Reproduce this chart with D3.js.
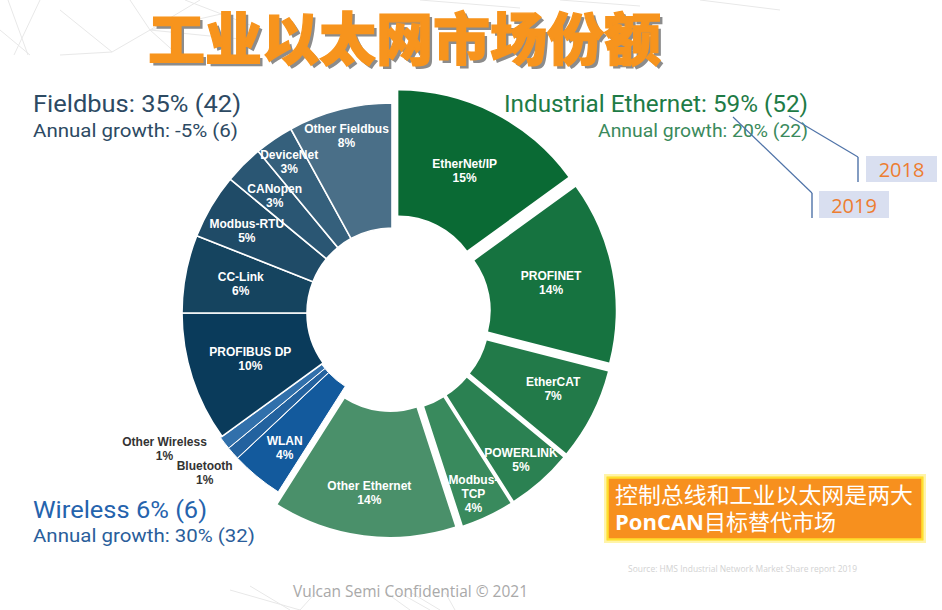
<!DOCTYPE html>
<html>
<head>
<meta charset="utf-8">
<script src="https://cdn.jsdelivr.net/npm/d3@7"></script>
<style>
  body { margin: 0; background: #fff; }
  svg { display: block; }
</style>
</head>
<body>
<div id="chart"></div>
<script>
//// data, clockwise from 12 o'clock
const segments = ['EtherNet/IP', 'PROFINET', 'EtherCAT', 'POWERLINK', 'Modbus-TCP', 'Other Ethernet',
	'WLAN', 'Bluetooth', 'Other Wireless',
	'PROFIBUS DP', 'CC-Link', 'Modbus-RTU', 'CANopen', 'DeviceNet', 'Other Fieldbus'];
const shares = [15, 14, 7, 5, 4, 14, 4, 1, 1, 10, 6, 5, 3, 3, 8];
const groups = ['eth', 'eth', 'eth', 'eth', 'eth', 'eth', 'wl', 'wl', 'wl', 'fb', 'fb', 'fb', 'fb', 'fb', 'fb'];

//// group summaries: 2019 share (2018 share), growth 2019 (2018)
const groupTitles = ['Fieldbus', 'Industrial Ethernet', 'Wireless'];
const groupShare = [35, 59, 6];
const groupShare2018 = [42, 52, 6];
const groupGrowth = [-5, 20, 30];
const groupGrowth2018 = [6, 22, 32];
const years = ['2018', '2019'];

const title = '工业以太网市场份额';
const noteLines = ['控制总线和工业以太网是两大', 'PonCAN目标替代市场'];
const source = 'Source: HMS Industrial Network Market Share report 2019';
const footer = 'Vulcan Semi Confidential © 2021';

//// styles / layout
const colors = {
	'EtherNet/IP': '#0a6a34', 'PROFINET': '#167340', 'EtherCAT': '#227a49', 'POWERLINK': '#2b8152',
	'Modbus-TCP': '#398a5d', 'Other Ethernet': '#4a906a',
	'WLAN': '#135a9d', 'Bluetooth': '#23629f', 'Other Wireless': '#3170ab',
	'PROFIBUS DP': '#0a3b5b', 'CC-Link': '#15445f', 'Modbus-RTU': '#1f4b67', 'CANopen': '#2a5673',
	'DeviceNet': '#35607c', 'Other Fieldbus': '#4a6f88'
};
const explode = { eth: 14, wl: 2, fb: 0 };
// label radius (and angle nudge in degrees) per slice
const labelPos = {
	'EtherNet/IP': [146, 0], 'PROFINET': [148, 0], 'EtherCAT': [164, -2], 'POWERLINK': [181, 0],
	'Modbus-TCP': [184, 1], 'Other Ethernet': [167, 0], 'WLAN': [170, -1],
	'Bluetooth': [244, 1], 'Other Wireless': [263, 7],
	'PROFIBUS DP': [149, 0], 'CC-Link': [154, 0], 'Modbus-RTU': [167, -1], 'CANopen': [166, 0],
	'DeviceNet': [183, 0], 'Other Fieldbus': [183, 0]
};
const wrap = { 'Modbus-TCP': ['Modbus-', 'TCP'] };
const outside = ['Bluetooth', 'Other Wireless'];

const W = 942, H = 610;
const cx = 392, cy = 313, rIn = 85, rOut = 210;

const svg = d3.select('#chart').append('svg')
	.attr('width', W)
	.attr('height', H)
	.style('font-family', 'Roboto, "Liberation Sans", sans-serif');

//// faint network-line backdrop (top band and bottom)
const decoLines = [
	[[8, 0], [28, 55]], [[40, 0], [14, 55]], [[0, 30], [30, 55]], [[60, 10], [112, 52]],
	[[112, 52], [150, 30]], [[112, 52], [60, 55]], [[150, 30], [200, 0]], [[150, 30], [178, 55]],
	[[150, 30], [230, 12]], [[150, 30], [130, 0]], [[150, 30], [250, 40]], [[185, 0], [250, 25]],
	[[420, 0], [520, 8]], [[560, 0], [640, 6]], [[700, 0], [780, 10]],
	[[230, 590], [300, 610]], [[250, 586], [290, 610]], [[300, 610], [318, 590]],
	[[385, 592], [410, 610]], [[398, 592], [430, 610]], [[410, 592], [440, 610]], [[445, 592], [455, 610]]
];
svg.append('g').selectAll('line')
	.data(decoLines)
	.enter()
	.append('line')
	.attr('x1', d => d[0][0]).attr('y1', d => d[0][1])
	.attr('x2', d => d[1][0]).attr('y2', d => d[1][1])
	.attr('stroke', '#e8e8e8').attr('stroke-width', 1);

//// title with drop shadow
const titleG = svg.append('g').style('font-family', '"Noto Sans CJK SC", sans-serif')
	.style('font-weight', 900).style('font-size', '57px');
titleG.append('text').attr('x', 151).attr('y', 63).attr('fill', '#8c8c8c').text(title);
titleG.append('text').attr('x', 148).attr('y', 60).attr('fill', '#f7941d')
	.attr('stroke', '#f7941d').attr('stroke-width', 1.2).text(title);

//// donut
const rows = segments.map((name, i) => ({ name, value: shares[i], group: groups[i] }));
const pie = d3.pie().sort(null).value(d => d.value).startAngle(0).endAngle(2 * Math.PI);
const arc = d3.arc().innerRadius(rIn).outerRadius(rOut);
const arcs = pie(rows);

const offset = d => {
	const mid = (d.startAngle + d.endAngle) / 2;
	const e = explode[d.data.group];
	return [e * Math.sin(mid), -e * Math.cos(mid)];
};

const donut = svg.append('g').attr('transform', `translate(${cx},${cy})`);

donut.append('g').selectAll('path')
	.data(arcs)
	.enter()
	.append('path')
	.attr('transform', d => `translate(${offset(d)})`)
	.attr('d', arc)
	.attr('fill', d => colors[d.data.name])
	.attr('stroke', d => d.data.group === 'eth' ? 'none' : '#fff')
	.attr('stroke-width', d => d.data.group === 'fb' ? 1.6 : 1);

//// labels on their own layer so no slice covers them
const labels = donut.append('g')
	.attr('text-anchor', 'middle')
	.attr('font-family', '"Liberation Sans", Arial, sans-serif')
	.attr('font-weight', 'bold')
	.attr('font-size', 12);

arcs.forEach(d => {
	const [r, nudge] = labelPos[d.data.name];
	const a = (d.startAngle + d.endAngle) / 2 + nudge * Math.PI / 180;
	const [lx, ly] = d3.arc().innerRadius(r).outerRadius(r).centroid({ startAngle: a, endAngle: a });
	const [ox, oy] = offset(d);
	const lines = (wrap[d.data.name] || [d.data.name]).concat([d.data.value + '%']);
	const lh = 14;
	const t = labels.append('text')
		.attr('fill', outside.includes(d.data.name) ? '#333' : '#fff');
	lines.forEach((ln, i) => {
		t.append('tspan')
			.attr('x', lx + ox)
			.attr('y', ly + oy + (i - (lines.length - 1) / 2) * lh + 4.3)
			.text(ln);
	});
});

//// group headings
const fmt = v => v + '%';
const headings = [
	{ t: `${groupTitles[0]}: ${fmt(groupShare[0])} (${groupShare2018[0]})`, x: 33, y: 112, w: 208, size: 24, fill: '#2d4a63' },
	{ t: `Annual growth: ${fmt(groupGrowth[0])} (${groupGrowth2018[0]})`, x: 33, y: 137, w: 205, size: 19, fill: '#2d4a63' },
	{ t: `${groupTitles[1]}: ${fmt(groupShare[1])} (${groupShare2018[1]})`, x: 504, y: 112, w: 304, size: 24, fill: '#1e7b46' },
	{ t: `Annual growth: ${fmt(groupGrowth[1])} (${groupGrowth2018[1]})`, x: 598, y: 137, w: 210, size: 19, fill: '#3b8a5c' },
	{ t: `${groupTitles[2]} ${fmt(groupShare[2])} (${groupShare2018[2]})`, x: 33, y: 518, w: 174, size: 24, fill: '#2563ad' },
	{ t: `Annual growth: ${fmt(groupGrowth[2])} (${groupGrowth2018[2]})`, x: 33, y: 542, w: 222, size: 19, fill: '#2a5e9b' }
];
svg.append('g').selectAll('text')
	.data(headings)
	.enter()
	.append('text')
	.attr('x', d => d.x)
	.attr('y', d => d.y)
	.attr('font-size', d => d.size)
	.attr('font-weight', 400)
	.attr('fill', d => d.fill)
	.attr('textLength', d => d.w)
	.attr('lengthAdjust', 'spacingAndGlyphs')
	.text(d => d.t);

//// 2018 / 2019 callouts
const callouts = [
	{ label: years[0], from: [789, 116], to: [858, 157], box: [866, 156, 71, 26] },
	{ label: years[1], from: [733, 117], to: [812, 193], box: [819, 191, 70, 27] }
];
const co = svg.append('g');
callouts.forEach(c => {
	co.append('line').attr('x1', c.from[0]).attr('y1', c.from[1]).attr('x2', c.to[0]).attr('y2', c.to[1])
		.attr('stroke', '#4f73a8').attr('stroke-width', 1.2);
	co.append('line').attr('x1', c.to[0]).attr('y1', c.to[1]).attr('x2', c.to[0]).attr('y2', c.to[1] + 25)
		.attr('stroke', '#4f73a8').attr('stroke-width', 1.4);
	co.append('rect').attr('x', c.box[0]).attr('y', c.box[1]).attr('width', c.box[2]).attr('height', c.box[3])
		.attr('fill', '#d9dff0');
	co.append('text').attr('x', c.box[0] + c.box[2] / 2).attr('y', c.box[1] + c.box[3] - 5)
		.attr('text-anchor', 'middle')
		.attr('font-family', '"Open Sans", "Liberation Sans", sans-serif')
		.attr('font-size', 20)
		.attr('fill', '#ed7d31')
		.text(c.label);
});

//// orange note box
const note = svg.append('g');
note.append('rect').attr('x', 605).attr('y', 475).attr('width', 320).attr('height', 67)
	.attr('fill', 'none').attr('stroke', '#fff4a8').attr('stroke-width', 2);
note.append('rect').attr('x', 607.5).attr('y', 477.5).attr('width', 315).attr('height', 62)
	.attr('fill', '#f7901e').attr('stroke', '#ffdf2e').attr('stroke-width', 2.5);
note.append('text').attr('x', 615).attr('y', 503)
	.attr('font-family', '"Noto Sans CJK SC", sans-serif')
	.attr('font-size', 22).attr('fill', '#fff')
	.attr('textLength', 298).attr('lengthAdjust', 'spacingAndGlyphs')
	.text(noteLines[0]);
const l2 = note.append('text').attr('x', 615).attr('y', 530)
	.attr('font-family', '"Noto Sans CJK SC", sans-serif')
	.attr('font-size', 22).attr('fill', '#fff');
const m = noteLines[1].match(/^([A-Za-z]+)(.*)$/);
l2.append('tspan').attr('font-family', '"Open Sans", "Liberation Sans", sans-serif').attr('font-weight', 'bold').text(m[1]);
l2.append('tspan').text(m[2]);

//// source and footer
svg.append('text').attr('x', 628).attr('y', 572)
	.attr('font-family', '"Open Sans", sans-serif').attr('font-size', 8.6)
	.attr('fill', '#d2d2d2').attr('textLength', 229).attr('lengthAdjust', 'spacingAndGlyphs')
	.text(source);
svg.append('text').attr('x', 293).attr('y', 597)
	.attr('font-family', '"Open Sans", "Liberation Sans", sans-serif').attr('font-size', 17)
	.attr('fill', '#a9a9a9')
	.attr('textLength', 235).attr('lengthAdjust', 'spacingAndGlyphs')
	.text(footer);
</script>
</body>
</html>
